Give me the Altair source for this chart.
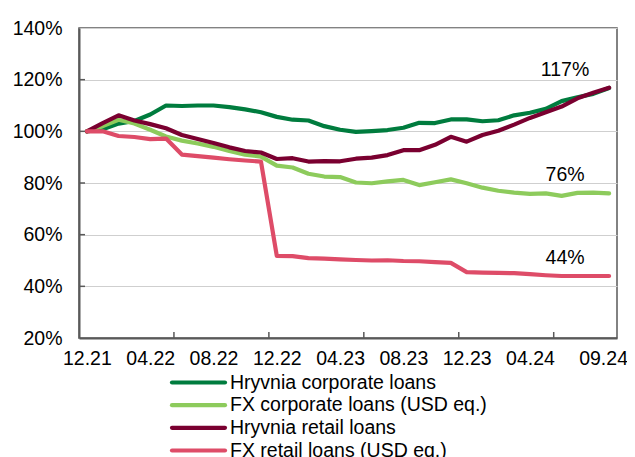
import json
import altair as alt
import pandas as pd

months = ["12.21", "01.22", "02.22", "03.22", "04.22", "05.22", "06.22", "07.22",
          "08.22", "09.22", "10.22", "11.22", "12.22", "01.23", "02.23", "03.23",
          "04.23", "05.23", "06.23", "07.23", "08.23", "09.23", "10.23", "11.23",
          "12.23", "01.24", "02.24", "03.24", "04.24", "05.24", "06.24", "07.24",
          "08.24", "09.24"]
tick_label_idx = [0, 4, 8, 12, 16, 20, 24, 28, 33]
tick_mark_pos = [5.5, 11.5, 17.5, 23.5, 29.5]

series = ["Hryvnia corporate loans", "FX corporate loans (USD eq.)",
          "Hryvnia retail loans", "FX retail loans (USD eq.)"]
colors = ["#007C3E", "#8DCB5C", "#7A0030", "#DE4C68"]

uah_corp = [100, 100.8, 103, 104, 106.5, 110, 109.8, 110, 110, 109.4, 108.5, 107.4,
            105.6, 104.5, 104.2, 102, 100.6, 99.8, 100.1, 100.5, 101.4, 103.3, 103.2,
            104.6, 104.6, 103.9, 104.3, 106.2, 107.2, 108.7, 111.7, 113.2, 114.5, 116.8]
fx_corp = [100, 102, 104.5, 103, 100.6, 98, 96.4, 95.3, 94, 92.4, 91, 90.2,
           86.7, 86, 83.6, 82.5, 82.3, 80.2, 79.9, 80.6, 81.2, 79.2, 80.3,
           81.4, 79.9, 78.2, 77, 76.3, 75.8, 76, 75, 76.2, 76.3, 76]
uah_retail = [100, 103.2, 106.2, 104.2, 102.8, 101.2, 98.6, 97, 95.5, 93.8, 92.4, 91.8,
              89.3, 89.6, 88.3, 88.5, 88.4, 89.4, 89.8, 90.8, 92.7, 92.7, 94.8,
              97.9, 96, 98.6, 100.2, 102.6, 105.2, 107.4, 109.6, 112.8, 114.9, 116.9]
fx_retail = [100, 100, 98.2, 97.8, 97, 97.2, 91, 90.4, 89.8, 89.2, 88.7, 88.3,
             51.8, 51.7, 50.9, 50.7, 50.4, 50.2, 50, 50.1, 49.8, 49.7, 49.4,
             49.1, 45.5, 45.3, 45.2, 45.1, 44.7, 44.3, 44, 44, 44, 44]

end_labels = ["117%", "76%", "44%"]
end_series = ["Hryvnia retail loans", "FX corporate loans (USD eq.)", "FX retail loans (USD eq.)"]

y_ticks = [20, 40, 60, 80, 100, 120, 140]

FONT = "Liberation Sans"

rows = []
for name, vals in zip(series, [uah_corp, fx_corp, uah_retail, fx_retail]):
    for i, v in enumerate(vals):
        rows.append({"idx": i, "series": name, "value": v})
df = pd.DataFrame(rows)

last_vals = {name: vals[-1] for name, vals in zip(series, [uah_corp, fx_corp, uah_retail, fx_retail])}
lab_df = pd.DataFrame({"text": end_labels,
                       "series": end_series,
                       "idx": [len(months) - 1] * 3,
                       "value": [last_vals[s] for s in end_series]})

leg_df = pd.DataFrame({"series": series, "row": list(range(len(series)))})
ytick_df = pd.DataFrame({"v": y_ticks[1:-1]})
xtick_df = pd.DataFrame({"p": tick_mark_pos})

label_expr = json.dumps(months) + "[datum.value]"
last_idx = len(months) - 1

x_scale = alt.Scale(domain=[-0.5, len(months) - 0.5], nice=False, zero=False)
y_scale = alt.Scale(domain=[20, 140], nice=False, zero=False)
color_scale = alt.Scale(domain=series, range=colors)

lines = alt.Chart(df).mark_line(strokeWidth=4.2, strokeJoin="round", strokeCap="round").encode(
    x=alt.X("idx:Q", scale=x_scale,
            axis=alt.Axis(values=tick_label_idx, labelExpr=label_expr, title=None,
                          grid=False, ticks=False, labelPadding=11, labelFontSize=19.5,
                          labelOffset={"expr": f"datum.value == {last_idx} ? -6 : 0"})),
    y=alt.Y("value:Q", scale=y_scale,
            axis=alt.Axis(values=y_ticks, labelExpr="datum.value + '%'", title=None,
                          grid=True, ticks=False, labelPadding=17, labelFontSize=19.5)),
    color=alt.Color("series:N", scale=color_scale, legend=None),
    order=alt.Order("idx:Q"),
)

labels = alt.Chart(lab_df).mark_text(font=FONT, fontSize=19.5, dx=-44, dy=-12,
                                     align="center", baseline="alphabetic",
                                     color="#000000").encode(
    x=alt.X("idx:Q", scale=x_scale),
    y=alt.Y("value:Q", scale=y_scale),
    text="text:N",
)

yticks = alt.Chart(ytick_df).mark_rule(color="#595959", strokeWidth=1.5).encode(
    y=alt.Y("v:Q", scale=y_scale),
    x=alt.value(0), x2=alt.value(6),
)
xticks = alt.Chart(xtick_df).mark_rule(color="#595959", strokeWidth=1.5).encode(
    x=alt.X("p:Q", scale=x_scale),
    y=alt.value(310), y2=alt.value(304),
)

main = alt.layer(lines, yticks, xticks, labels)

leg_y = alt.Y("row:Q", scale=alt.Scale(domain=[0, 3], range=[354.5, 422.5]), axis=None)
leg_rule = alt.Chart(leg_df).mark_rule(strokeWidth=4.2, strokeCap="round").encode(
    x=alt.value(93), x2=alt.value(146),
    y=leg_y,
    color=alt.Color("series:N", scale=color_scale, legend=None),
)
leg_text = alt.Chart(leg_df).mark_text(font=FONT, fontSize=19.5, align="left",
                                       baseline="middle", color="#000000").encode(
    x=alt.value(151),
    y=leg_y,
    text="series:N",
)
legend = alt.layer(leg_rule, leg_text)

chart = alt.layer(main, legend).resolve_scale(y="independent").properties(
    width=538, height=310,
    autosize=alt.AutoSizeParams(type="none"),
    padding={"left": 71, "top": 20, "right": 10, "bottom": 119},
).configure_view(
    stroke="#595959", strokeWidth=1.5
).configure_axis(
    labelFont=FONT, labelColor="#000000",
    domainColor="#595959", domainWidth=2,
    gridColor="#cfcfcf", gridWidth=1,
)

chart.save("out.html", embed_options={"renderer": "svg", "actions": False})
